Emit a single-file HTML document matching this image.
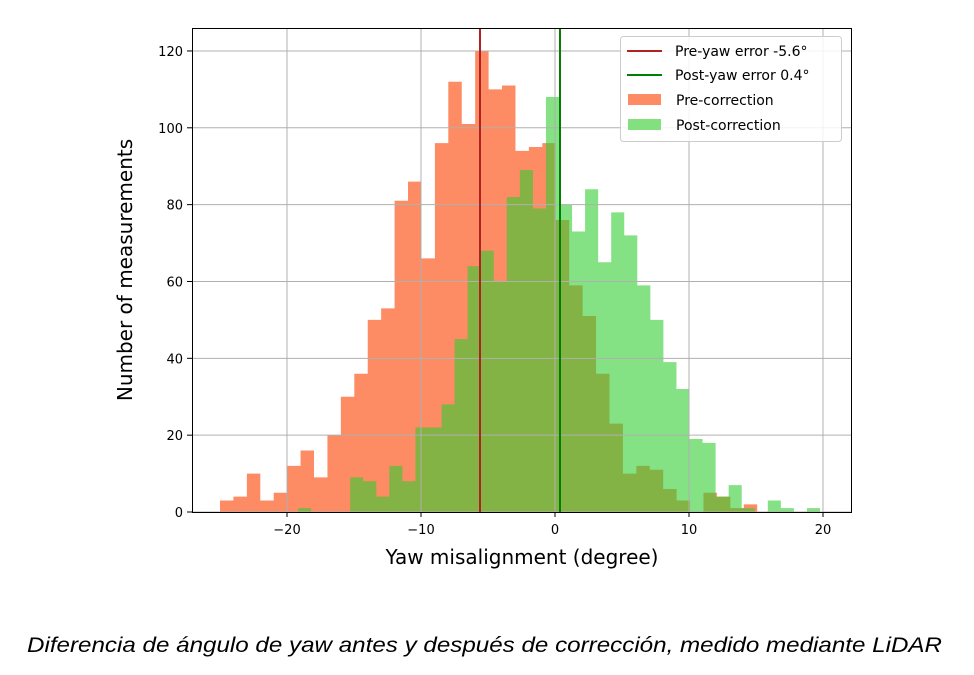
<!DOCTYPE html>
<html><head><meta charset="utf-8"><style>
body{margin:0;background:#fff;}
svg{display:block;font-family:"DejaVu Sans","Liberation Sans",sans-serif;}
</style></head><body>
<svg id="s" width="974" height="675" viewBox="0 0 974 675" xmlns="http://www.w3.org/2000/svg">
<g id="bars"></g>
<g id="grid" stroke="#b0b0b0" stroke-width="1"></g>
<line x1="480" y1="28" x2="480" y2="512" stroke="#b22222" stroke-width="2"/>
<line x1="560" y1="28" x2="560" y2="512" stroke="#008000" stroke-width="2"/>
<rect x="192.5" y="28.5" width="659" height="484" fill="none" stroke="#000" stroke-width="1"/>
<g id="ticks" font-size="13" fill="#000"></g>
<text x="522" y="564" font-size="20" text-anchor="middle">Yaw misalignment (degree)</text>
<text transform="translate(132,270) rotate(-90)" font-size="20" text-anchor="middle">Number of measurements</text>
<g>
<rect x="620.5" y="36.5" width="221" height="105" rx="3" fill="#fff" fill-opacity="0.85" stroke="#cccccc"/>
<line x1="627" y1="51" x2="662" y2="51" stroke="#b22222" stroke-width="2"/>
<line x1="627" y1="75" x2="662" y2="75" stroke="#008000" stroke-width="2"/>
<rect x="628" y="94" width="33" height="11" fill="#fd8b63"/>
<rect x="628" y="119" width="33" height="11" fill="#83e07f"/>
<text x="675" y="56" font-size="14">Pre-yaw error -5.6°</text>
<text x="675" y="80" font-size="14">Post-yaw error 0.4°</text>
<text x="676" y="105" font-size="14">Pre-correction</text>
<text x="676" y="130" font-size="14">Post-correction</text>
</g>
<text x="27" y="652" font-size="21" font-style="italic" textLength="915" lengthAdjust="spacingAndGlyphs" font-family="Liberation Sans, sans-serif">Diferencia de ángulo de yaw antes y después de corrección, medido mediante LiDAR</text>
</svg>
<script>
var NS="http://www.w3.org/2000/svg";
function el(p,t,a){var e=document.createElementNS(NS,t);for(var k in a)e.setAttribute(k,a[k]);p.appendChild(e);return e;}
var Y=function(v){return 512-3.842*v;};
var bars=document.getElementById('bars');
var pre=[3,4,10,3,5,12,16,9,20,30,36,50,53,81,86,66,96,112,101,120,110,111,94,95,96,76,59,51,36,23,10,12,11,6,3,0,5,4,1,2];
var post=[1,0,0,0,9,8,4,12,8,22,22,28,45,64,68,60,82,89,79,108,80,73,84,65,78,72,59,50,39,32,19,18,4,7,1,0,3,1,0,1];
function stepPath(arr,x0,w){var d='M'+x0+' 512';arr.forEach(function(v,i){var xa=x0+w*i,xb=x0+w*(i+1);d+=' L'+xa.toFixed(2)+' '+Y(v).toFixed(2)+' L'+xb.toFixed(2)+' '+Y(v).toFixed(2);});d+=' L'+(x0+w*arr.length).toFixed(2)+' 512 Z';return d;}
el(bars,'path',{d:stepPath(pre,220,13.43),fill:'#fd8b63'});
el(bars,'path',{d:stepPath(post,298,13.05),fill:'rgb(50,205,50)','fill-opacity':0.6});
var g=document.getElementById('grid'),t=document.getElementById('ticks');
[-20,-10,0,10,20].forEach(function(v){var x=555+13.4*v;el(g,'line',{x1:x,y1:28,x2:x,y2:512});
el(t,'line',{x1:x,y1:512,x2:x,y2:517,stroke:'#000'});
var tx=el(t,'text',{x:x,y:534,'text-anchor':'middle'});tx.textContent=(v<0?'\u2212'+(-v):v);});
for(var v=0;v<=120;v+=20){var y=Y(v);el(g,'line',{x1:192,y1:y,x2:852,y2:y});
el(t,'line',{x1:187,y1:y,x2:192,y2:y,stroke:'#000'});
var tx=el(t,'text',{x:183,y:y+5,'text-anchor':'end'});tx.textContent=v;}
</script>
</body></html>
